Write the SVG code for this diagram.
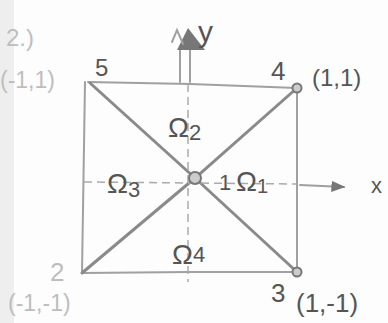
<svg xmlns="http://www.w3.org/2000/svg" width="388" height="323" viewBox="0 0 388 323">
<style>
.t{font-family:"Liberation Sans",Arial,sans-serif;fill:#555;}
.f{fill:#bdbdbd;}
.e{stroke:#a0a0a0;stroke-width:2;fill:none;stroke-linecap:round;}
.d{stroke:#8a8a8a;stroke-width:3;fill:none;stroke-linecap:round;}
.ax{stroke:#aaa;stroke-width:1.5;fill:none;stroke-dasharray:8 5;}
.pt{fill:#ccc;stroke:#777;stroke-width:2;}
</style>
<defs>
<marker id="ah" viewBox="0 0 10 10" refX="9" refY="5" markerWidth="7" markerHeight="7" orient="auto">
<path d="M0,1 L10,5 L0,9 Z" fill="#777"/>
</marker>
</defs>
<rect width="388" height="323" fill="#fdfdfd"/>
<rect width="14" height="323" fill="#eee"/>
<text class="t f" x="6" y="46" font-size="24">2.)</text>
<g id="connectors">
<path class="e" d="M88,82 L190,84 L297,88"/>
<path class="e" d="M297,88 L297,272"/>
<path class="e" d="M82,273 L190,272 L297,272"/>
<path class="e" d="M85,82 L82,273"/>
<path class="d" d="M90,83 L195,178 L297,272"/>
<path class="d" d="M82,273 L195,178 L297,88"/>
<path class="ax" d="M84,182 L296,184"/>
<path class="e" d="M300,185 L344,187" marker-end="url(#ah)"/>
<path class="ax" d="M188,84 L188,282"/>
<path class="e" d="M180,82 L180,50 M190,82 L190,50"/>
<path d="M188,28 L205,50 L177,50 Z" fill="#777"/>
<path class="e" d="M172,42 L177,30 L183,44"/>
</g>
<g id="node-1">
<circle class="pt" cx="195" cy="178" r="6"/>
<text class="t" x="219" y="190" font-size="22">1</text>
</g>
<g id="node-2">
<text class="t f" x="50" y="281" font-size="26">2</text>
<text class="t f" x="8" y="311" font-size="23">(-1,-1)</text>
</g>
<g id="node-3">
<circle class="pt" cx="297" cy="272" r="4.5"/>
<text class="t" x="271" y="302" font-size="26">3</text>
<text class="t" x="296" y="312" font-size="26">(1,-1)</text>
</g>
<g id="node-4">
<circle class="pt" cx="297" cy="88" r="4.5"/>
<text class="t" x="271" y="80" font-size="26">4</text>
<text class="t" x="312" y="86" font-size="24">(1,1)</text>
</g>
<g id="node-5">
<text class="t" x="95" y="76" font-size="24">5</text>
<text class="t f" x="0" y="88" font-size="23">(-1,1)</text>
</g>
<g id="labels">
<text class="t" x="198" y="42" font-size="30">y</text>
<text class="t" x="371" y="193" font-size="22" fill="#777">x</text>
<text class="t" x="168" y="137" font-size="28">Ω<tspan font-size="22" dy="3">2</tspan></text>
<text class="t" x="107" y="193" font-size="28">Ω<tspan font-size="22" dy="4">3</tspan></text>
<text class="t" x="236" y="191" font-size="28">Ω<tspan font-size="20" dy="2">1</tspan></text>
<text class="t" x="172" y="264" font-size="28">Ω<tspan font-size="22" dy="-2">4</tspan></text>
</g>
</svg>
